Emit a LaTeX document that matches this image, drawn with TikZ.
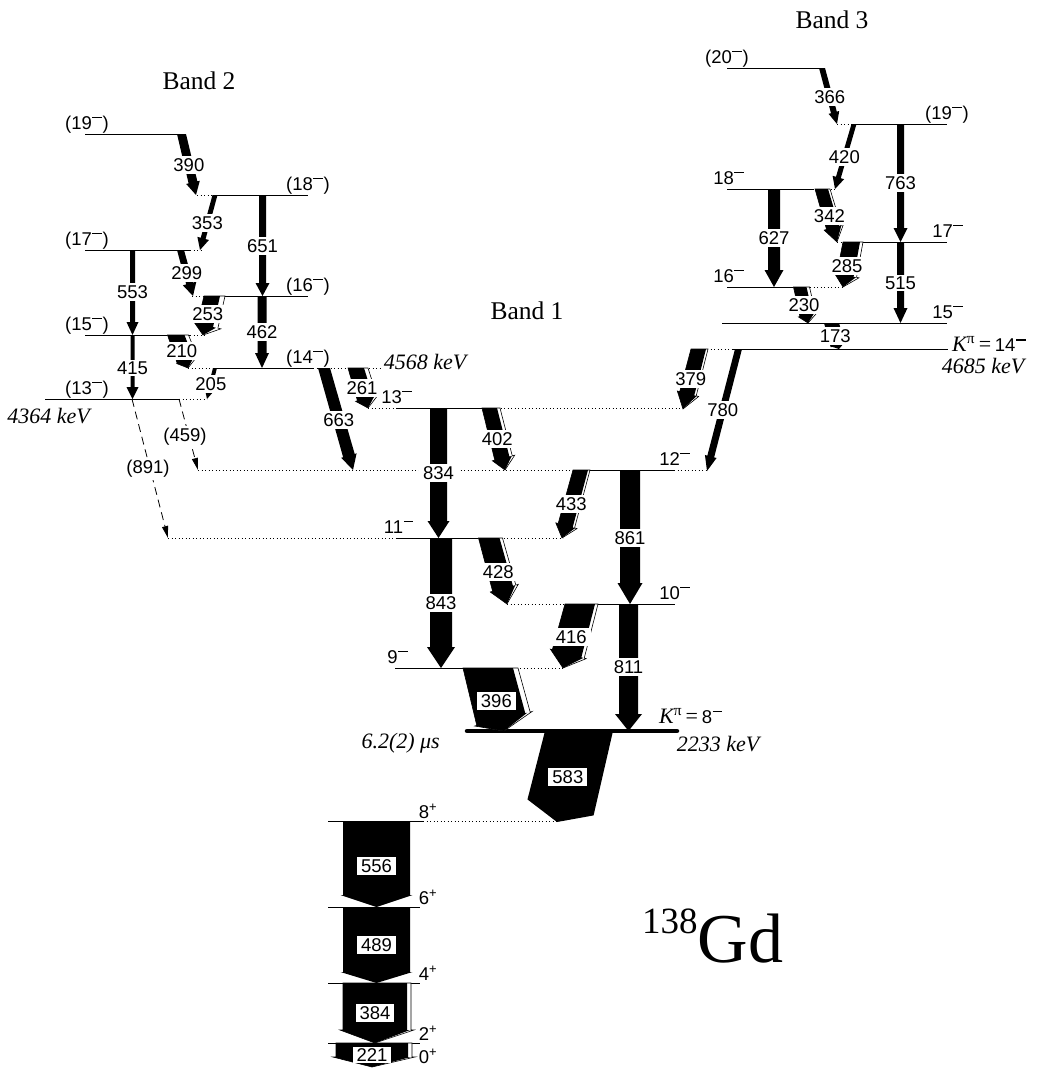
\documentclass[tikz,border=0pt]{standalone}
\usepackage{fontspec}
\setmainfont{Liberation Serif}
\setsansfont{Liberation Sans}
\usetikzlibrary{arrows.meta,calc}

\tikzset{
  lvl/.style={line width=0.8pt},
  lvldot/.style={line width=0.8pt, dash pattern=on 0.9pt off 2.6pt},
  thicklvl/.style={line width=4.5pt, line cap=round},
  glabel/.style={fill=white, inner xsep=4pt, inner ysep=2pt, font=\sffamily\fontsize{18.5}{20}\selectfont},
  slabel/.style={inner sep=0pt, anchor=base, font=\sffamily\fontsize{18.5}{20}\selectfont},
  bandname/.style={font=\rmfamily\fontsize{25.5}{28}\selectfont},
  energy/.style={inner sep=0pt, font=\rmfamily\itshape\fontsize{22}{24}\selectfont},
  outl/.style={fill=white, draw=black, line width=0.6pt},
  weak/.style={line width=0.8pt, dash pattern=on 8pt off 5pt, -{Triangle[length=12pt,width=6pt]}},
}

% raised minus of the spin labels
\newcommand{\smin}{\kern0.6pt\raisebox{0.58em}{\rule{0.52em}{0.075em}}\kern0.6pt}

% gamma arrow: x1,y1 (top centre), x2,y2 (tip), width, head half width, head length, label, label y
\newcommand{\gam}[9]{%
  \pgfmathsetmacro{\ghw}{#5/2}%
  \pgfmathsetmacro{\gxl}{#1+(#3-#1)*(#9-#2)/(#4-#2)}%
  \coordinate (gT) at (#1,#2);
  \coordinate (gP) at (#3,#4);
  \coordinate (gB) at ($(gP)!#7pt!(gT)$);
  \fill (#1-\ghw,#2) -- (#1+\ghw,#2) -- ($(gB)!\ghw pt!90:(gP)$) -- ($(gB)!#6pt!90:(gP)$)
    -- (gP) -- ($(gB)!#6pt!-90:(gP)$) -- ($(gB)!\ghw pt!-90:(gP)$) -- cycle;
  \node[glabel] (g#8) at (\gxl,#9) {#8};
}
% total intensity outline: x1,y1, x2,y2, width, total width, head half width, head length
\newcommand{\gamtot}[8]{%
  \pgfmathsetmacro{\ghw}{#5/2}%
  \pgfmathsetmacro{\gtr}{#6-#5/2}%
  \pgfmathsetmacro{\gth}{#7+#6-#5}%
  \coordinate (gT) at (#1,#2);
  \coordinate (gP) at (#3,#4);
  \coordinate (gB) at ($(gP)!#8pt!(gT)$);
  \filldraw[outl] (#1-\ghw,#2) -- (#1-\ghw+#6,#2) -- ($(gB)!\gtr pt!90:(gP)$) -- ($(gB)!\gth pt!90:(gP)$)
    -- (gP) -- ($(gB)!#7pt!-90:(gP)$) -- ($(gB)!\ghw pt!-90:(gP)$) -- cycle;
}

\begin{document}
\begin{tikzpicture}[x=1pt,y=-1pt]
\useasboundingbox (0,0) rectangle (1036,1076);

% band 2 levels
\draw[lvl] (85,134) -- (180,134);
\draw[lvldot] (197,195) -- (217,195);
\draw[lvl] (217,195) -- (308,195);
\draw[lvl] (85,250) -- (190,250);
\draw[lvldot] (190,250) -- (202,250);
\draw[lvldot] (192,296) -- (223,296);
\draw[lvl] (223,296) -- (308,296);
\draw[lvl] (85,335) -- (190,335);
\draw[lvldot] (190,335) -- (205,335);
\draw[lvldot] (188,368) -- (215,368);
\draw[lvl] (215,368) -- (313,368);
\draw[lvldot] (313,368) -- (380,368);
\draw[lvl] (45,399) -- (179,399);
\draw[lvldot] (179,399) -- (207,399);

% band 1 levels
\draw[lvldot] (368,408) -- (397,408);
\draw[lvl] (397,408) -- (497,408);
\draw[lvldot] (497,408) -- (683,408);
\draw[lvldot] (198,470) -- (575,470);
\draw[lvl] (575,470) -- (674,470);
\draw[lvldot] (674,470) -- (707,470);
\draw[lvldot] (168,538) -- (397,538);
\draw[lvl] (397,538) -- (500,538);
\draw[lvldot] (500,538) -- (563,538);
\draw[lvldot] (507,604) -- (565,604);
\draw[lvl] (565,604) -- (675,604);
\draw[lvl] (395,668) -- (513,668);
\draw[lvldot] (513,668) -- (565,668);
\draw[thicklvl] (467,731) -- (677,731);

% ground band levels
\draw[lvl] (328,821) -- (423,821);
\draw[lvldot] (423,821) -- (557,821);
\draw[lvl] (328,907) -- (420,907);
\draw[lvl] (328,983) -- (420,983);
\draw[lvl] (328,1043) -- (420,1043);

% band 3 levels
\draw[lvl] (727,68) -- (820,68);
\draw[lvldot] (837,124) -- (853,124);
\draw[lvl] (853,124) -- (947,124);
\draw[lvl] (727,189) -- (813,189);
\draw[lvldot] (813,189) -- (837,189);
\draw[lvldot] (837,242) -- (860,242);
\draw[lvl] (860,242) -- (947,242);
\draw[lvl] (727,287) -- (810,287);
\draw[lvldot] (810,287) -- (843,287);
\draw[lvl] (722,323) -- (947,323);
\draw[lvldot] (707,349) -- (733,349);
\draw[lvl] (733,349) -- (948,349);

% band 2 transitions
\gam{181.5}{134}{196}{195}{9}{7}{13}{390}{165}
\gam{215}{195}{200}{250}{5}{6}{12}{353}{223}
\gam{262.5}{195}{262.5}{296}{7}{7}{13}{651}{246}
\gam{180.5}{250}{193}{296}{7}{7}{13}{299}{273}
\gam{132.5}{250}{132.5}{335}{5}{6}{13}{553}{292}
\gamtot{212}{296}{203}{335}{16}{21}{11}{10}
\gam{212}{296}{203}{335}{16}{11}{10}{253}{314}
\gam{262}{296}{262}{368}{9}{7}{15}{462}{332}
\gamtot{176}{335}{188}{368}{17}{21}{9}{8}
\gam{176}{335}{188}{368}{17}{9}{8}{210}{351}
\gam{132.5}{335}{132.5}{399}{4}{6}{12}{415}{368}
\gam{215}{368}{207}{399}{4}{4.5}{9}{205}{384}
\gam{324}{368}{353}{470}{12}{8}{15}{663}{420}
\gamtot{356}{368}{368}{408}{16}{20}{10}{10}
\gam{356}{368}{368}{408}{16}{10}{10}{261}{388}
\draw[weak] (179,399) -- (198,470);
\node[glabel] (g459) at (185,437) {(459)};
\draw[weak] (132,399) -- (168,538);
\node[glabel] (g891) at (148,469) {(891)};

% band 1 transitions
\gam{438.5}{408}{438.5}{538}{17}{11}{17}{834}{473}
\gamtot{489.5}{408}{505}{470}{15}{18}{10}{12}
\gam{489.5}{408}{505}{470}{15}{10}{12}{402}{439}
\gam{630}{470}{630}{604}{20}{12.5}{21}{861}{538}
\gamtot{580.5}{470}{562}{538}{15}{17}{10}{13}
\gam{580.5}{470}{562}{538}{15}{10}{13}{433}{504}
\gam{738.5}{349}{707}{471}{7}{6}{15}{780}{410}
\gamtot{698.5}{349}{683}{409}{15}{17}{10}{16}
\gam{698.5}{349}{683}{409}{15}{10}{16}{379}{379}
\gam{441}{538}{441}{668}{22}{14}{21}{843}{603}
\gamtot{489}{538}{507}{604}{21}{24}{13}{16}
\gam{489}{538}{507}{604}{21}{13}{16}{428}{572}
\gam{628.5}{604}{628.5}{731}{19}{13.5}{17}{811}{667}
\gamtot{580}{604}{563}{668}{30}{33}{17}{15}
\gam{580}{604}{563}{668}{30}{17}{15}{416}{637}
\gamtot{488}{668}{504}{731}{50}{55}{27}{12}
\gam{488}{668}{504}{731}{50}{27}{12}{396}{701}
\gam{579}{731}{557}{822}{68}{34}{15}{583}{777}

% ground band transitions
\gam{376.5}{821}{376.5}{907}{67}{36}{12}{556}{866}
\gam{376.5}{907}{376.5}{983}{67}{36}{11}{489}{945}
\gamtot{375}{983}{375}{1043}{64}{68}{35}{13}
\gam{375}{983}{375}{1043}{64}{35}{13}{384}{1013}
\gamtot{372}{1043}{372}{1067}{72}{76}{39}{10}
\gam{372}{1043}{372}{1067}{72}{39}{10}{221}{1055}

% band 3 transitions
\gam{822}{68}{837}{124}{6}{5.5}{12}{366}{97}
\gam{854}{124}{835}{189}{5}{6}{12}{420}{157}
\gam{900.5}{124}{900.5}{242}{7}{7}{14}{763}{183}
\gam{774}{189}{774}{287}{12}{9.5}{17}{627}{238}
\gamtot{821.5}{189}{837}{242}{13}{15}{9}{15}
\gam{821.5}{189}{837}{242}{13}{9}{15}{342}{216}
\gamtot{851.5}{242}{843}{287}{17}{20}{11}{12}
\gam{851.5}{242}{843}{287}{17}{11}{12}{285}{266}
\gam{900.5}{242}{900.5}{323}{7}{7}{15}{515}{283}
\gamtot{800}{287}{808}{323}{13}{16}{8}{8}
\gam{800}{287}{808}{323}{13}{8}{8}{230}{305}
\gam{831.5}{323}{839}{349}{15}{6}{4}{173}{336}

% spin labels
\node[slabel] (b2s19) at (87,129) {(19\smin)};
\node[slabel] (b2s18) at (308,190) {(18\smin)};
\node[slabel] (b2s17) at (87,245) {(17\smin)};
\node[slabel] (b2s16) at (308,291) {(16\smin)};
\node[slabel] (b2s15) at (87,330) {(15\smin)};
\node[slabel] (b2s14) at (308,363) {(14\smin)};
\node[slabel] (b2s13) at (87,394) {(13\smin)};
\node[slabel] (b1s13) at (397,403) {13\smin};
\node[slabel] (b1s12) at (675,465) {12\smin};
\node[slabel] (b1s11) at (399,533) {11\smin};
\node[slabel] (b1s10) at (675,599) {10\smin};
\node[slabel] (b1s9) at (398,663) {9\smin};
\node[slabel] (gs8) at (428,818) {8\textsuperscript{+}};
\node[slabel] (gs6) at (428,904) {6\textsuperscript{+}};
\node[slabel] (gs4) at (428,980) {4\textsuperscript{+}};
\node[slabel] (gs2) at (428,1040) {2\textsuperscript{+}};
\node[slabel] (gs0) at (428,1063) {0\textsuperscript{+}};
\node[slabel] (b3s20) at (727,63) {(20\smin)};
\node[slabel] (b3s19) at (947,119) {(19\smin)};
\node[slabel] (b3s18) at (729,184) {18\smin};
\node[slabel] (b3s17) at (948,237) {17\smin};
\node[slabel] (b3s16) at (729,282) {16\smin};
\node[slabel] (b3s15) at (948,318) {15\smin};

% band heads and titles
\node[energy] (e4568) at (425,362) {4568 keV};
\node[energy, anchor=east] (e4364) at (90,416) {4364 keV};
\node[energy, anchor=east] (elife) at (440,743) {6.2(2) μs};
\node[energy] (e2233) at (718,744) {2233 keV};
\node[energy] (e4685) at (983,366) {4685 keV};
\node[energy, anchor=west] (k14) at (952,344) {K\textsuperscript{\upshape π}\,{\upshape=}\,{\sffamily\upshape\fontsize{18.5}{20}\selectfont 14\smin}};
\node[energy] (k8) at (691,716) {K\textsuperscript{\upshape π}\,{\upshape=}\,{\sffamily\upshape\fontsize{18.5}{20}\selectfont 8\smin}};
\node[bandname] (band1) at (527,311) {Band 1};
\node[bandname] (band2) at (199,81) {Band 2};
\node[bandname] (band3) at (832,20) {Band 3};
\node[anchor=base west, inner sep=0pt, font=\rmfamily\fontsize{70}{72}\selectfont] (nucl) at (642,962) {\raisebox{29pt}{\fontsize{37}{40}\selectfont 138}Gd};
\end{tikzpicture}
\end{document}
